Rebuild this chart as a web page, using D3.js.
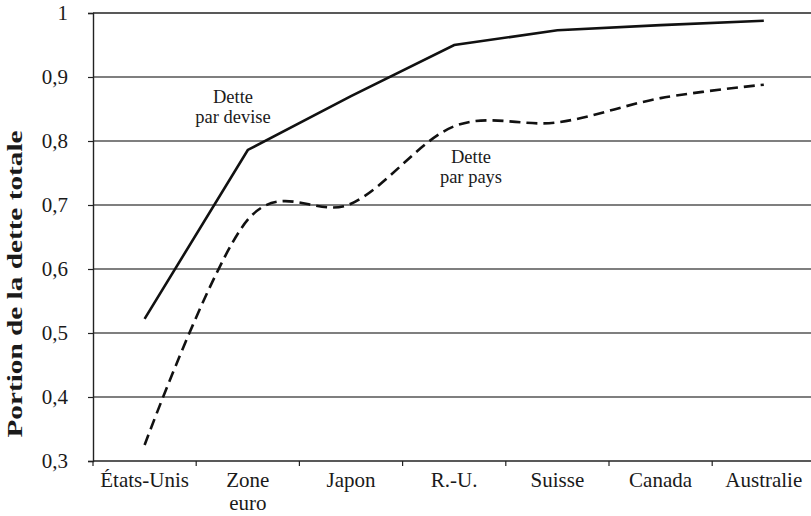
<!DOCTYPE html>
<html>
<head>
<meta charset="utf-8">
<script src="https://cdn.jsdelivr.net/npm/d3@7"></script>
<style>
  body { margin: 0; background: #fff; }
</style>
</head>
<body>
<svg id="chart" width="811" height="516"></svg>
<script>
const categories = ["États-Unis", "Zone euro", "Japon", "R.-U.", "Suisse", "Canada", "Australie"];
const parDevise = [0.522, 0.786, 0.870, 0.950, 0.973, 0.981, 0.988];
const parPays = [0.325, 0.677, 0.702, 0.823, 0.829, 0.867, 0.888];
const yTicks = [0.3, 0.4, 0.5, 0.6, 0.7, 0.8, 0.9, 1];

const serif = '"Liberation Serif", "Times New Roman", serif';
const svg = d3.select("#chart");
const margin = { left: 93, top: 13, bottom: 461 };
const bandWidth = 103.2;

const x = d3.scaleBand()
  .domain(categories)
  .range([margin.left, margin.left + bandWidth * categories.length])
  .padding(0);

const y = d3.scaleLinear().domain([0.3, 1]).range([margin.bottom, margin.top]);

const fmt = (v) => (v === 1 ? "1" : d3.format(".1f")(v).replace(".", ","));

// gridlines
svg.append("g")
  .selectAll("line")
  .data(yTicks)
  .join("line")
  .attr("x1", margin.left)
  .attr("x2", 811)
  .attr("y1", (d) => y(d))
  .attr("y2", (d) => y(d))
  .attr("stroke", (d) => (d === 1 || d === 0.3 ? "#222" : "#555"))
  .attr("stroke-width", 1.4);

// y axis
const yAxis = svg.append("g")
  .attr("transform", `translate(${margin.left},0)`)
  .call(d3.axisLeft(y).tickValues(yTicks).tickFormat(fmt).tickSize(5).tickPadding(20));
yAxis.select(".domain").attr("stroke", "#222").attr("stroke-width", 1.4);
yAxis.selectAll(".tick line").attr("stroke", "#222").attr("stroke-width", 1.2);
yAxis.selectAll(".tick text")
  .style("font-size", "21px")
  .style("font-family", serif)
  .attr("fill", "#1a1a1a");

// x axis ticks at band boundaries
const xAxisG = svg.append("g").attr("transform", `translate(0,${margin.bottom})`);
xAxisG.selectAll("line")
  .data(categories)
  .join("line")
  .attr("x1", (d) => x(d))
  .attr("x2", (d) => x(d))
  .attr("y1", 0)
  .attr("y2", 5)
  .attr("stroke", "#222")
  .attr("stroke-width", 1.2);

xAxisG.selectAll("text")
  .data(categories)
  .join("text")
  .attr("text-anchor", "middle")
  .attr("y", 26)
  .style("font-size", "21px")
  .style("font-family", serif)
  .attr("fill", "#1a1a1a")
  .each(function (d) {
    const parts = d === "Zone euro" ? ["Zone", "euro"] : [d];
    d3.select(this).selectAll("tspan")
      .data(parts)
      .join("tspan")
      .attr("x", x(d) + x.bandwidth() / 2)
      .attr("dy", (p, i) => (i === 0 ? 0 : 23))
      .text((p) => p);
  });

// y axis title
svg.append("text")
  .attr("transform", "translate(22,284) rotate(-90)")
  .attr("text-anchor", "middle")
  .attr("textLength", 307)
  .attr("lengthAdjust", "spacingAndGlyphs")
  .style("font-size", "20px")
  .style("font-weight", "bold")
  .style("font-family", serif)
  .attr("fill", "#1a1a1a")
  .text("Portion de la dette totale");

const cx = (i) => x(categories[i]) + x.bandwidth() / 2;

// solid line: debt by currency
svg.append("path")
  .datum(parDevise)
  .attr("fill", "none")
  .attr("stroke", "#111")
  .attr("stroke-width", 2.6)
  .attr("d", d3.line().x((d, i) => cx(i)).y((d) => y(d)));

// dashed smoothed line: debt by country
svg.append("path")
  .datum(parPays)
  .attr("fill", "none")
  .attr("stroke", "#111")
  .attr("stroke-width", 2.6)
  .attr("stroke-dasharray", "11,6")
  .attr("d", d3.line().x((d, i) => cx(i)).y((d) => y(d)).curve(d3.curveCardinal.tension(0)));

// annotations
const notes = [
  { lines: ["Dette", "par devise"], x: 233, y: 103 },
  { lines: ["Dette", "par pays"], x: 471, y: 163 }
];
svg.append("g")
  .selectAll("text")
  .data(notes)
  .join("text")
  .attr("text-anchor", "middle")
  .style("font-size", "18.5px")
  .style("font-family", serif)
  .attr("fill", "#1a1a1a")
  .each(function (n) {
    d3.select(this).selectAll("tspan")
      .data(n.lines)
      .join("tspan")
      .attr("x", n.x)
      .attr("y", (l, i) => n.y + i * 20)
      .text((l) => l);
  });
</script>
</body>
</html>
